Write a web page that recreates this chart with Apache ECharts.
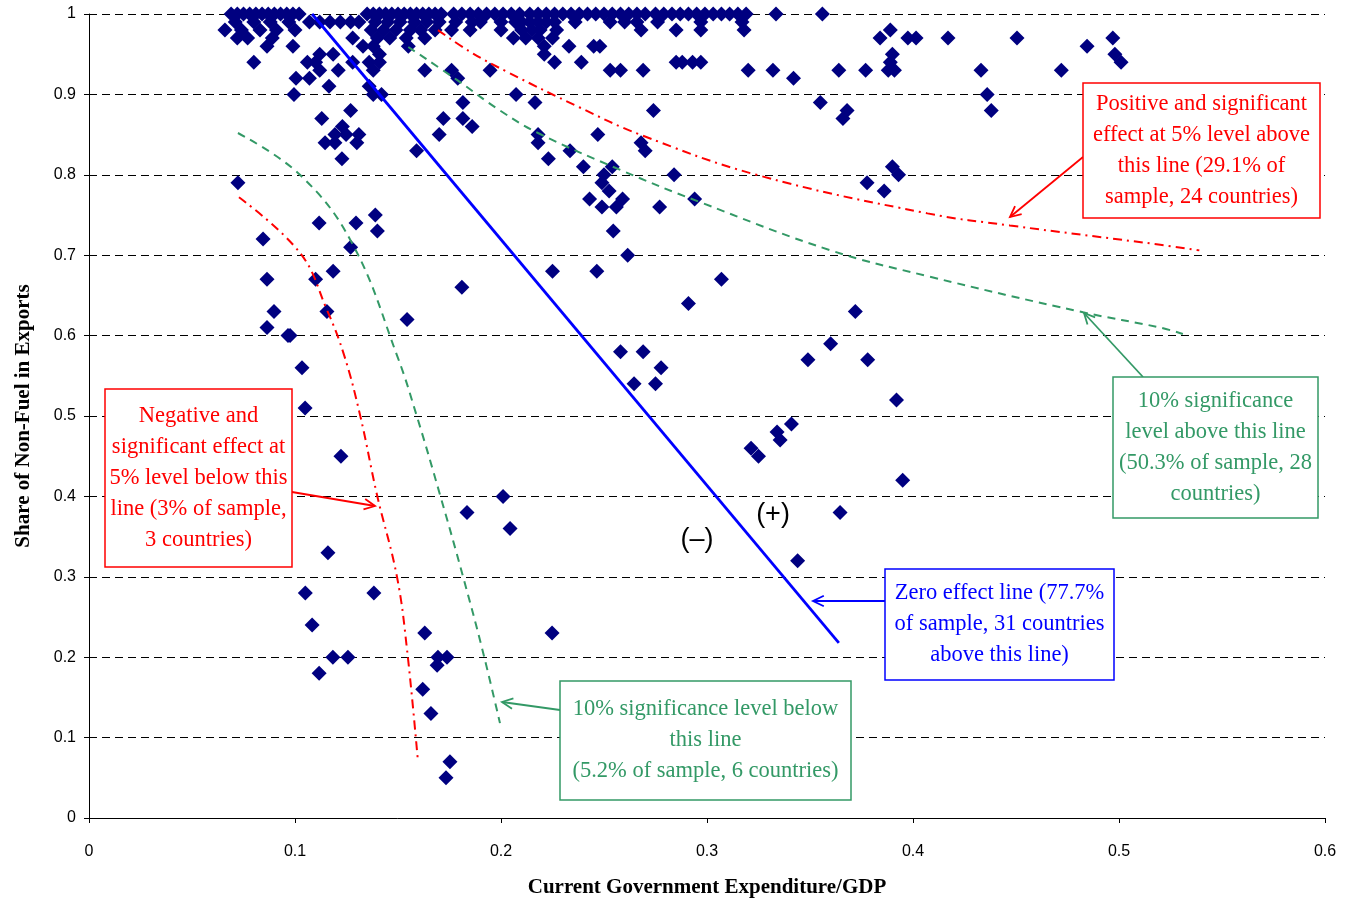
<!DOCTYPE html>
<html>
<head>
<meta charset="utf-8">
<script src="https://cdn.jsdelivr.net/npm/echarts@6/dist/echarts.min.js"></script>
<style>html,body{margin:0;padding:0;background:#fff}#c{width:1354px;height:904px}</style>
</head>
<body>
<div id="c"></div>
<script>
// ---- data ----
const xTicks = [0, 0.1, 0.2, 0.3, 0.4, 0.5, 0.6];
const yTicks = [0, 0.1, 0.2, 0.3, 0.4, 0.5, 0.6, 0.7, 0.8, 0.9, 1];
// scatter points grouped by share of non-fuel exports: [y, [x values]]
const pointRows = [
 [1.00, [0.069,0.072,0.075,0.078,0.081,0.084,0.087,0.090,0.093,0.096,0.099,0.102,
         0.135,0.138,0.141,0.144,0.147,0.150,0.153,0.156,0.159,0.162,0.165,0.168,0.171,
         0.177,0.181,0.185,0.189,0.193,0.197,0.201,0.205,0.209,0.214,0.218,0.222,0.226,
         0.230,0.234,0.238,0.242,0.246,0.250,0.254,0.258,0.262,0.266,0.270,0.275,0.279,
         0.283,0.287,0.291,0.295,0.299,0.303,0.307,0.311,0.315,0.319,0.3335,0.356]],
 [0.99, [0.071,0.080,0.088,0.097,0.107,0.112,0.117,0.122,0.127,0.131,0.139,0.145,0.151,
         0.158,0.164,0.170,0.178,0.186,0.190,0.200,0.207,0.210,0.214,0.218,0.222,0.226,
         0.236,0.253,0.260,0.266,0.276,0.297,0.317]],
 [0.98, [0.066,0.074,0.083,0.091,0.100,0.137,0.143,0.149,0.156,0.161,0.168,0.176,0.185,
         0.200,0.210,0.215,0.219,0.227,0.268,0.285,0.297,0.318,0.389]],
 [0.97, [0.072,0.077,0.089,0.128,0.140,0.146,0.154,0.163,0.206,0.212,0.218,0.225,
         0.384,0.3975,0.4015,0.417,0.4505,0.497]],
 [0.96, [0.0864,0.099,0.133,0.138,0.155,0.221,0.233,0.245,0.248,0.4845]],
 [0.95, [0.112,0.1185,0.141,0.221,0.390,0.498]],
 [0.94, [0.080,0.106,0.110,0.128,0.136,0.141,0.226,0.239,0.285,0.288,0.293,0.297,0.389,0.501]],
 [0.93, [0.112,0.121,0.138,0.163,0.176,0.1947,0.253,0.258,0.269,0.320,0.332,0.364,0.377,
         0.388,0.391,0.433,0.472]],
 [0.92, [0.1005,0.107,0.179,0.342]],
 [0.91, [0.1165,0.136]],
 [0.90, [0.0995,0.138,0.142,0.2073,0.436]],
 [0.89, [0.1815,0.2165,0.355]],
 [0.88, [0.127,0.274,0.368,0.438]],
 [0.87, [0.113,0.172,0.1815,0.366]],
 [0.86, [0.123,0.186]],
 [0.85, [0.1194,0.1248,0.131,0.170,0.218,0.247]],
 [0.84, [0.1146,0.1194,0.130,0.218,0.268]],
 [0.83, [0.159,0.2335,0.270]],
 [0.82, [0.1228,0.223]],
 [0.81, [0.240,0.254,0.390]],
 [0.80, [0.250,0.284,0.393]],
 [0.79, [0.0723,0.249,0.3777]],
 [0.78, [0.2525,0.386]],
 [0.77, [0.243,0.259,0.294]],
 [0.76, [0.249,0.256,0.277]],
 [0.75, [0.139]],
 [0.74, [0.1117,0.1296]],
 [0.73, [0.140,0.2545]],
 [0.72, [0.0845]],
 [0.71, [0.127]],
 [0.70, [0.2615]],
 [0.68, [0.1185,0.225,0.2465]],
 [0.67, [0.0864,0.110,0.307]],
 [0.66, [0.181]],
 [0.64, [0.291]],
 [0.63, [0.0898,0.1155,0.372]],
 [0.62, [0.1544]],
 [0.61, [0.0864]],
 [0.60, [0.0966,0.0976]],
 [0.59, [0.360]],
 [0.58, [0.258,0.269]],
 [0.57, [0.349,0.378]],
 [0.56, [0.1034,0.2777]],
 [0.54, [0.2646,0.275]],
 [0.52, [0.392]],
 [0.51, [0.1049]],
 [0.49, [0.341]],
 [0.48, [0.334]],
 [0.47, [0.3355]],
 [0.46, [0.3214]],
 [0.45, [0.1223,0.325]],
 [0.42, [0.395]],
 [0.40, [0.201]],
 [0.38, [0.1835,0.3646]],
 [0.36, [0.2044]],
 [0.33, [0.116]],
 [0.32, [0.344]],
 [0.28, [0.105,0.1383]],
 [0.24, [0.1083]],
 [0.23, [0.163,0.2248]],
 [0.20, [0.1184,0.1257,0.1694,0.1738]],
 [0.19, [0.169]],
 [0.18, [0.1117]],
 [0.16, [0.162]],
 [0.13, [0.166]],
 [0.07, [0.1752]],
 [0.05, [0.1733]]
];
const zeroEffectLine = [[0.1083, 1.0], [0.364, 0.2177]];
const pos5Line = [[0.1694,0.98],[0.185,0.953],[0.203,0.928],[0.238,0.884],[0.2675,0.85],
                  [0.324,0.80],[0.407,0.752],[0.447,0.737],[0.52,0.713],[0.539,0.706]];
const pos10Line = [[0.155,0.959],[0.1786,0.918],[0.1995,0.88],[0.218,0.852],[0.258,0.806],
                   [0.2966,0.766],[0.36,0.706],[0.407,0.674],[0.4825,0.629],[0.52,0.61],[0.531,0.602]];
const neg10Line = [[0.0723,0.852],[0.1024,0.80],[0.1277,0.715],[0.15,0.572],[0.159,0.501],
                   [0.1704,0.402],[0.1816,0.30],[0.191,0.209],[0.1995,0.118]];
const neg5Line = [[0.0728,0.772],[0.1024,0.703],[0.1155,0.632],[0.1238,0.576],[0.1316,0.501],
                  [0.1398,0.402],[0.1495,0.30],[0.1544,0.209],[0.1597,0.07]];
const xTitle = 'Current Government Expenditure/GDP';
const yTitle = 'Share of Non-Fuel in Exports';
const notePos5 = ['Positive and significant', 'effect at 5% level above', 'this line (29.1% of', 'sample, 24 countries)'];
const notePos10 = ['10% significance', 'level above this line', '(50.3% of sample, 28', 'countries)'];
const noteZero = ['Zero effect line (77.7%', 'of sample, 31 countries', 'above this line)'];
const noteNeg10 = ['10% significance level below', 'this line', '(5.2% of sample, 6 countries)'];
const noteNeg5 = ['Negative and', 'significant effect at', '5% level below this', 'line (3% of sample,', '3 countries)'];
const signPlus = '(+)';
const signMinus = '(\u2013)';

// ---- build ----
const points = pointRows.flatMap(([y, xs]) => xs.map(x => [x, y]));
const RED = '#ff0000', GREEN = '#339966', BLUE = '#0000ff', NAVY = '#000080';
const serif = '"Liberation Serif", "Times New Roman", serif';
const sans = '"Liberation Sans", Arial, sans-serif';

const chart = echarts.init(document.getElementById('c'), null, {renderer: 'canvas'});

function box(x, y, w, h, color, lines, lh) {
  const children = [{
    type: 'rect', z: 100, shape: {x: x, y: y, width: w, height: h},
    style: {fill: '#fff', stroke: color, lineWidth: 1.5}
  }];
  const top = y + h / 2 - (lines.length * lh) / 2 + lh / 2;
  lines.forEach((t, i) => children.push({
    type: 'text', z: 101, x: x + w / 2, y: top + i * lh,
    style: {text: t, fill: color, font: '22.5px ' + serif, align: 'center', verticalAlign: 'middle'}
  }));
  return {type: 'group', children: children};
}
function arrow(x1, y1, x2, y2, color) {
  const a = Math.atan2(y2 - y1, x2 - x1), L = 12, s = 0.45;
  return {type: 'group', children: [
    {type: 'line', z: 100, shape: {x1, y1, x2, y2}, style: {stroke: color, lineWidth: 1.8}},
    {type: 'polyline', z: 100, shape: {points: [
      [x2 - L * Math.cos(a - s), y2 - L * Math.sin(a - s)], [x2, y2],
      [x2 - L * Math.cos(a + s), y2 - L * Math.sin(a + s)]]},
     style: {stroke: color, lineWidth: 1.8, fill: null}}
  ]};
}

const fmt = v => String(+v.toFixed(1));

chart.setOption({
  animation: false,
  backgroundColor: '#fff',
  grid: {left: 89, right: 29, top: 14, bottom: 86, containLabel: false},
  xAxis: {
    type: 'value', min: 0, max: 0.6, interval: 0.1,
    name: xTitle, nameLocation: 'middle', nameGap: 59,
    nameTextStyle: {fontFamily: serif, fontWeight: 'bold', fontSize: 21, color: '#000'},
    axisLine: {show: true, lineStyle: {color: '#000', width: 1}},
    axisTick: {show: true, inside: false, length: 5, lineStyle: {color: '#000'}},
    axisLabel: {formatter: fmt, color: '#000', fontFamily: sans, fontSize: 16, margin: 26},
    splitLine: {show: false}
  },
  yAxis: {
    type: 'value', min: 0, max: 1, interval: 0.1,
    name: yTitle, nameLocation: 'middle', nameGap: 55, nameRotate: 90,
    nameTextStyle: {fontFamily: serif, fontWeight: 'bold', fontSize: 21, color: '#000'},
    axisLine: {show: true, lineStyle: {color: '#000', width: 1}},
    axisTick: {show: true, inside: false, length: 5, lineStyle: {color: '#000'}},
    axisLabel: {formatter: fmt, color: '#000', fontFamily: sans, fontSize: 16, margin: 13},
    splitLine: {show: true, lineStyle: {color: '#000', width: 1, type: [8, 5]}}
  },
  series: [
    {type: 'scatter', data: points, symbol: 'diamond', symbolSize: 15,
     itemStyle: {color: NAVY, opacity: 1}, z: 2},
    {type: 'line', data: neg5Line, smooth: 0.4, showSymbol: false, z: 3,
     lineStyle: {color: RED, width: 2, type: [9, 5, 2, 5]}},
    {type: 'line', data: neg10Line, smooth: 0.4, showSymbol: false, z: 3,
     lineStyle: {color: GREEN, width: 2, type: [8, 6]}},
    {type: 'line', data: zeroEffectLine, showSymbol: false, z: 3,
     lineStyle: {color: BLUE, width: 2.8, type: 'solid'}},
    {type: 'line', data: pos10Line, smooth: 0.4, showSymbol: false, z: 3,
     lineStyle: {color: GREEN, width: 2, type: [8, 6]}},
    {type: 'line', data: pos5Line, smooth: 0.4, showSymbol: false, z: 3,
     lineStyle: {color: RED, width: 2, type: [9, 5, 2, 5]}}
  ],
  graphic: [
    arrow(1083, 157, 1010, 217, RED),
    box(1083, 83, 237, 135, RED, notePos5, 31),
    arrow(1143, 377, 1084, 313, GREEN),
    box(1113, 377, 205, 141, GREEN, notePos10, 31),
    arrow(885, 601, 813, 601, BLUE),
    box(885, 569, 229, 111, BLUE, noteZero, 31),
    arrow(560, 710, 502, 702, GREEN),
    box(560, 681, 291, 119, GREEN, noteNeg10, 31),
    arrow(292, 492, 375, 506, RED),
    box(105, 389, 187, 178, RED, noteNeg5, 31),
    {type: 'text', x: 773, y: 515, z: 100,
     style: {text: signPlus, fill: '#000', font: '27px ' + sans, align: 'center', verticalAlign: 'middle'}},
    {type: 'text', x: 697, y: 540, z: 100,
     style: {text: signMinus, fill: '#000', font: '27px ' + sans, align: 'center', verticalAlign: 'middle'}}
  ]
});
</script>
</body>
</html>
